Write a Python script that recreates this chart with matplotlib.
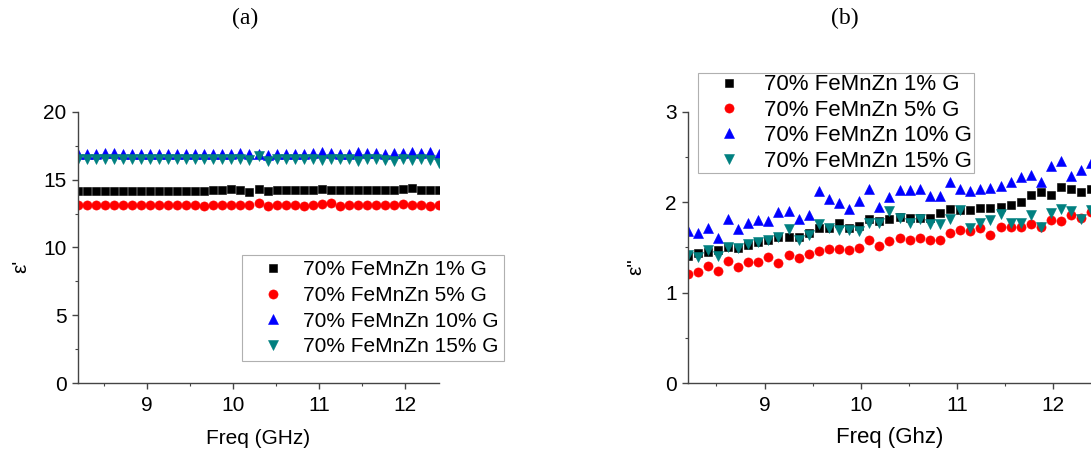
import numpy as np
import matplotlib
matplotlib.use('Agg')
import matplotlib.pyplot as plt
from matplotlib.ticker import MultipleLocator

plt.rcParams['font.family'] = ['Liberation Sans', 'DejaVu Sans']

# frequency grid, X band 8.2 - 12.4 GHz
freq = np.linspace(8.2, 12.4, 41)

labels = ['70% FeMnZn 1% G', '70% FeMnZn 5% G', '70% FeMnZn 10% G', '70% FeMnZn 15% G']

# (a) real part
eps1_g1 = [14.15, 14.18, 14.16, 14.18, 14.17, 14.16, 14.18, 14.17, 14.18, 14.17,
           14.19, 14.18, 14.17, 14.19, 14.18, 14.20, 14.21, 14.32, 14.22, 14.10,
           14.30, 14.14, 14.22, 14.23, 14.22, 14.20, 14.24, 14.33, 14.24, 14.23,
           14.25, 14.24, 14.26, 14.25, 14.26, 14.23, 14.33, 14.37, 14.24, 14.23, 14.22]
eps1_g5 = [13.12, 13.15, 13.14, 13.15, 13.16, 13.13, 13.15, 13.14, 13.15, 13.13,
           13.14, 13.15, 13.14, 13.12, 13.05, 13.10, 13.13, 13.14, 13.15, 13.13,
           13.25, 13.08, 13.14, 13.16, 13.16, 13.05, 13.15, 13.22, 13.25, 13.07,
           13.13, 13.14, 13.12, 13.16, 13.14, 13.16, 13.20, 13.16, 13.14, 13.08, 13.12]
eps1_g10 = [16.85, 16.90, 16.87, 16.92, 16.93, 16.88, 16.86, 16.90, 16.88, 16.87,
            16.90, 16.88, 16.87, 16.88, 16.90, 16.89, 16.88, 16.87, 16.92, 16.85,
            16.88, 16.80, 16.90, 16.91, 16.88, 16.90, 16.92, 17.00, 16.93, 16.85,
            16.88, 17.05, 16.95, 16.92, 16.90, 16.92, 16.95, 17.00, 16.93, 17.00, 16.85]
eps1_g15 = [16.50, 16.52, 16.48, 16.52, 16.50, 16.51, 16.49, 16.50, 16.48, 16.52,
            16.50, 16.49, 16.51, 16.50, 16.48, 16.50, 16.52, 16.49, 16.50, 16.47,
            16.70, 16.40, 16.50, 16.49, 16.51, 16.48, 16.50, 16.46, 16.49, 16.50,
            16.48, 16.35, 16.48, 16.50, 16.47, 16.35, 16.49, 16.45, 16.48, 16.45, 16.20]

# (b) imaginary part
eps2_g1 = [1.41, 1.44, 1.45, 1.47, 1.51, 1.49, 1.53, 1.56, 1.58, 1.62,
           1.62, 1.62, 1.66, 1.71, 1.71, 1.77, 1.71, 1.74, 1.81, 1.79,
           1.81, 1.84, 1.83, 1.83, 1.83, 1.88, 1.93, 1.91, 1.91, 1.94,
           1.94, 1.95, 1.97, 2.00, 2.08, 2.11, 2.08, 2.17, 2.15, 2.11, 2.15]
eps2_g5 = [1.21, 1.23, 1.29, 1.24, 1.35, 1.28, 1.34, 1.34, 1.39, 1.33,
           1.42, 1.38, 1.43, 1.46, 1.48, 1.48, 1.47, 1.49, 1.58, 1.52,
           1.57, 1.60, 1.58, 1.61, 1.58, 1.58, 1.66, 1.69, 1.68, 1.71,
           1.64, 1.73, 1.73, 1.73, 1.76, 1.73, 1.80, 1.79, 1.86, 1.83, 1.89]
eps2_g10 = [1.68, 1.66, 1.72, 1.61, 1.81, 1.70, 1.77, 1.80, 1.79, 1.89,
            1.90, 1.81, 1.86, 2.12, 2.03, 1.99, 1.93, 2.01, 2.15, 1.95,
            2.06, 2.13, 2.13, 2.15, 2.07, 2.07, 2.22, 2.15, 2.12, 2.15,
            2.16, 2.18, 2.22, 2.28, 2.30, 2.22, 2.40, 2.46, 2.29, 2.36, 2.43]
eps2_g15 = [1.42, 1.39, 1.47, 1.41, 1.51, 1.49, 1.54, 1.56, 1.58, 1.62,
            1.70, 1.58, 1.64, 1.76, 1.71, 1.69, 1.69, 1.68, 1.77, 1.77,
            1.90, 1.83, 1.77, 1.82, 1.76, 1.76, 1.82, 1.91, 1.72, 1.77,
            1.80, 1.87, 1.77, 1.77, 1.86, 1.73, 1.88, 1.92, 1.90, 1.82, 1.91]

colors = ['black', '#ff0000', '#0000ff', '#008080']
markers = ['s', 'o', '^', 'v']
msizes = [5.8, 6.6, 7.0, 7.0]

fig = plt.figure(figsize=(10.91, 4.55), dpi=100)
ax1 = fig.add_axes([0.0712, 0.1576, 0.3315, 0.597])
ax2 = fig.add_axes([0.6303, 0.1576, 0.370, 0.597])


def style_axes(ax, ymaj, ymin, fs):
    for s in ['top', 'right']:
        ax.spines[s].set_visible(False)
    for s in ['left', 'bottom']:
        ax.spines[s].set_color('#444444')
        ax.spines[s].set_linewidth(1.0)
    ax.set_xlim(8.2, 12.4)
    ax.xaxis.set_major_locator(MultipleLocator(1))
    ax.xaxis.set_minor_locator(MultipleLocator(0.5))
    ax.yaxis.set_major_locator(MultipleLocator(ymaj))
    ax.yaxis.set_minor_locator(MultipleLocator(ymin))
    ax.tick_params(which='both', direction='out', color='#444444', labelsize=fs)
    ax.tick_params(which='major', length=4, width=1.0)
    ax.tick_params(which='minor', length=2.5, width=0.8)
    ax.tick_params(axis='x', pad=5)
    ax.tick_params(axis='y', pad=4)


# (a)
for ys, c, m, ms, lab in zip([eps1_g1, eps1_g5, eps1_g10, eps1_g15], colors, markers, msizes, labels):
    ax1.plot(freq, ys, linestyle='none', marker=m, ms=ms, color=c, mec=c, mew=0.4, label=lab)
ax1.set_ylim(0, 20)
style_axes(ax1, 5, 2.5, 15)
ax1.set_xlabel('Freq (GHz)', fontsize=15, labelpad=10)
ax1.set_ylabel("ε'", fontsize=15)
ax1.yaxis.set_label_coords(-0.13, 0.43)
leg1 = ax1.legend(loc='upper left', bbox_to_anchor=(0.454, 0.472), borderaxespad=0,
                  fontsize=15, frameon=True, fancybox=False, edgecolor='#b0b0b0',
                  framealpha=1, borderpad=0.25, labelspacing=0.32, handlelength=2.5,
                  handletextpad=0.2)
leg1.get_frame().set_linewidth(0.8)

# (b)
for ys, c, m, ms, lab in zip([eps2_g1, eps2_g5, eps2_g10, eps2_g15], colors, markers, msizes, labels):
    ax2.plot(freq, ys, linestyle='none', marker=m, ms=ms, color=c, mec=c, mew=0.4, label=lab)
ax2.set_ylim(0, 3)
style_axes(ax2, 1, 0.5, 15)
ax2.set_xlabel('Freq (Ghz)', fontsize=16, labelpad=9)
ax2.set_ylabel('ε"', fontsize=15)
ax2.yaxis.set_label_coords(-0.106, 0.428)
leg2 = ax2.legend(loc='upper left', bbox_to_anchor=(0.026, 1.144), borderaxespad=0,
                  fontsize=16, frameon=True, fancybox=False, edgecolor='#b0b0b0',
                  framealpha=1, borderpad=0.08, labelspacing=0.2, handlelength=2.6,
                  handletextpad=0.3)
leg2.get_frame().set_linewidth(0.8)

fig.text(0.2246, 0.960, '(a)', ha='center', va='center', fontsize=17, family='Liberation Serif')
fig.text(0.7745, 0.960, '(b)', ha='center', va='center', fontsize=17, family='Liberation Serif')

fig.savefig('out.png', dpi=100)
